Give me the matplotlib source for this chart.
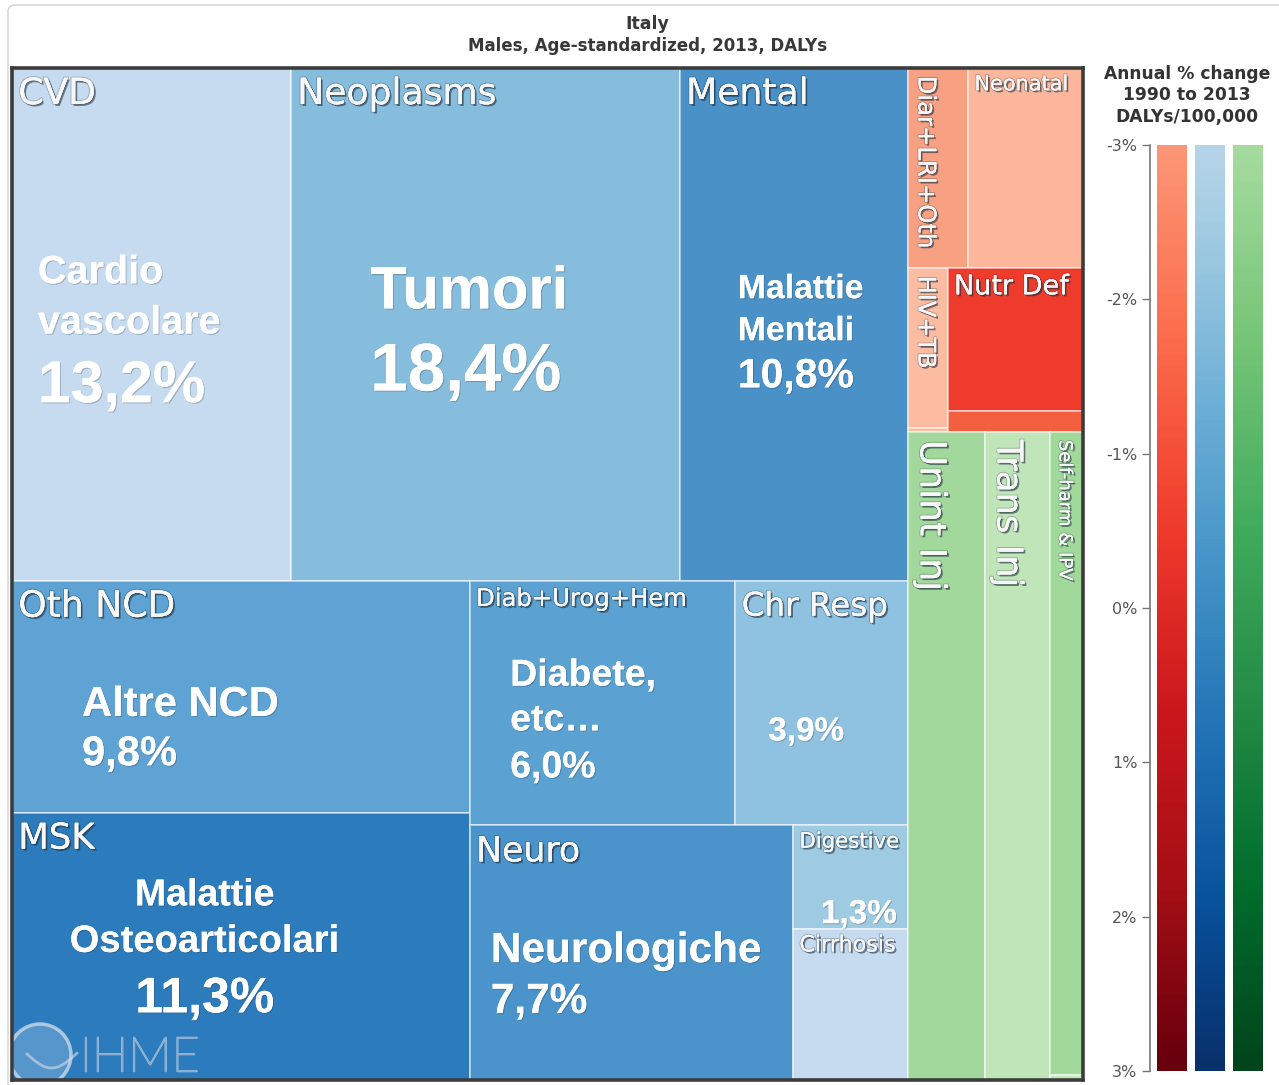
import matplotlib
matplotlib.use("Agg")
import matplotlib.pyplot as plt
import numpy as np
from matplotlib.patches import Rectangle, Ellipse, FancyBboxPatch
from matplotlib import patheffects as pe
from matplotlib.colors import LinearSegmentedColormap

# ---------------- data ----------------
causes = ["CVD", "Neoplasms", "Mental", "Oth NCD", "MSK", "Diab+Urog+Hem",
          "Chr Resp", "Neuro", "Digestive", "Cirrhosis", "Diar+LRI+Oth",
          "Neonatal", "HIV+TB", "NTD & Malaria", "Nutr Def", "Oth Comm",
          "Unint Inj", "Trans Inj", "Self-harm & IPV", "Forces of nature"]
daly_share = [13.2, 18.4, 10.8, 9.8, 11.3, 6.0,
              3.9, 7.6, 1.1, 1.6, 1.11,
              2.12, 0.585, 0.015, 1.78, 0.27,
              4.6, 3.89, 1.955, 0.015]
cause_colors = ["#c6dbef", "#86bcdc", "#4a91c8", "#5ea3d3", "#2c7cbd", "#5ba1d1",
                "#8fc2e0", "#4b94cb", "#9ecae2", "#c6dbf0", "#f7a082",
                "#fcb69b", "#fcbca2", "#fcbca2", "#ef3b2c", "#f4603f",
                "#a2d89b", "#c0e5b9", "#a1d99b", "#c7e9c0"]

# hierarchical slicing structure of the treemap
layout_tree = ("cols", [
    ("rows", [
        ("cols", ["CVD", "Neoplasms", "Mental"]),
        ("cols", [
            ("rows", ["Oth NCD", "MSK"]),
            ("rows", [
                ("cols", ["Diab+Urog+Hem", "Chr Resp"]),
                ("cols", ["Neuro", ("rows", ["Digestive", "Cirrhosis"])]),
            ]),
        ]),
    ]),
    ("rows", [
        ("rows", [
            ("cols", ["Diar+LRI+Oth", "Neonatal"]),
            ("cols", [("rows", ["HIV+TB", "NTD & Malaria"]),
                      ("rows", ["Nutr Def", "Oth Comm"])]),
        ]),
        ("cols", ["Unint Inj", "Trans Inj",
                  ("rows", ["Self-harm & IPV", "Forces of nature"])]),
    ]),
])

# cause labels shown in the corner of the cells
shown_labels = ["CVD", "Neoplasms", "Mental", "Oth NCD", "MSK", "Diab+Urog+Hem",
                "Chr Resp", "Neuro", "Digestive", "Cirrhosis", "Diar+LRI+Oth",
                "Neonatal", "HIV+TB", "Nutr Def", "Unint Inj", "Trans Inj",
                "Self-harm & IPV"]

# Italian annotation lines (cause, text)
annot_cause = ["CVD", "CVD", "CVD", "Neoplasms", "Neoplasms",
               "Mental", "Mental", "Mental", "Oth NCD", "Oth NCD",
               "Diab+Urog+Hem", "Diab+Urog+Hem", "Diab+Urog+Hem", "Chr Resp",
               "MSK", "MSK", "MSK", "Neuro", "Neuro", "Digestive"]
annot_text = ["Cardio", "vascolare", "13,2%", "Tumori", "18,4%",
              "Malattie", "Mentali", "10,8%", "Altre NCD", "9,8%",
              "Diabete,", "etc…", "6,0%", "3,9%",
              "Malattie", "Osteoarticolari", "11,3%", "Neurologiche", "7,7%", "1,3%"]

cbar_ticks = [-3, -2, -1, 0, 1, 2, 3]
cbar_ticklabels = ["-3%", "-2%", "-1%", "0%", "1%", "2%", "3%"]

# ---------------- styles ----------------
label_style = {  # fontsize, rotation
    "CVD": (26, 0), "Neoplasms": (26, 0), "Mental": (26, 0), "Oth NCD": (26, 0),
    "MSK": (25.5, 0), "Diab+Urog+Hem": (17.5, 0), "Chr Resp": (23.5, 0),
    "Neuro": (25, 0), "Digestive": (15.3, 0), "Cirrhosis": (16, 0),
    "Diar+LRI+Oth": (17.5, 270), "Neonatal": (15, 0), "HIV+TB": (17.3, 270),
    "Nutr Def": (19.5, 0), "Unint Inj": (26, 270), "Trans Inj": (25.5, 270),
    "Self-harm & IPV": (13, 270),
}
# (fontsize, fx, fy-baseline, ha) relative to the cell
annot_style = [(28.5, 0.093, 0.42, "left"), (28.5, 0.093, 0.518, "left"), (42.5, 0.093, 0.652, "left"),
               (43, 0.204, 0.469, "left"), (48.5, 0.204, 0.629, "left"),
               (24.3, 0.254, 0.449, "left"), (24.3, 0.254, 0.531, "left"), (29.5, 0.254, 0.623, "left"),
               (30, 0.153, 0.583, "left"), (30, 0.153, 0.796, "left"),
               (27, 0.152, 0.429, "left"), (27, 0.152, 0.612, "left"), (27, 0.152, 0.804, "left"),
               (24, 0.19, 0.653, "left"),
               (27, 0.421, 0.347, "center"), (27.5, 0.421, 0.521, "center"), (36, 0.421, 0.747, "center"),
               (30.5, 0.065, 0.537, "left"), (30.5, 0.065, 0.737, "left"),
               (24, 0.905, 0.942, "right")]

W, H = 1279, 1085
fig = plt.figure(figsize=(W / 100, H / 100), dpi=100)
fig.patch.set_facecolor("white")

# card border
fig.add_artist(FancyBboxPatch((8 / W, -0.02), 1.2, 1.0 - 5 / H + 0.02,
                              boxstyle="round,pad=0,rounding_size=0.006",
                              transform=fig.transFigure, facecolor="none",
                              edgecolor="#d9d9d9", linewidth=1.2))

# title
fig.text(0.506, 1 - 24 / H, "Italy", ha="center", va="center",
         fontsize=12.5, fontweight="bold", color="#383838", family="DejaVu Sans")
fig.text(0.506, 1 - 46 / H, "Males, Age-standardized, 2013, DALYs", ha="center",
         va="center", fontsize=12, fontweight="bold", color="#383838", family="DejaVu Sans")

# treemap axes
ax = fig.add_axes([12 / W, 1 - 1080 / H, 1071 / W, 1012 / H])
ax.set_xlim(0, 1)
ax.set_ylim(1, 0)
ax.set_xticks([])
ax.set_yticks([])
for s in ax.spines.values():
    s.set_color("#3c3c3c")
    s.set_linewidth(2.6)

value_of = dict(zip(causes, daly_share))
color_of = dict(zip(causes, cause_colors))


def total(node):
    if isinstance(node, str):
        return value_of[node]
    return sum(total(k) for k in node[1])


def slice_layout(node, x, y, w, h, out):
    if isinstance(node, str):
        out[node] = (x, y, w, h)
        return
    orient, kids = node
    tots = [total(k) for k in kids]
    s = sum(tots)
    pos = 0.0
    for k, t in zip(kids, tots):
        f = t / s
        if orient == "cols":
            slice_layout(k, x + pos * w, y, f * w, h, out)
        else:
            slice_layout(k, x, y + pos * h, w, f * h, out)
        pos += f


rects = {}
slice_layout(layout_tree, 0.0, 0.0, 1.0, 1.0, rects)

for c in causes:
    x, y, w, h = rects[c]
    ax.add_patch(Rectangle((x, y), w, h, facecolor=color_of[c],
                           edgecolor=(1, 1, 1, 0.55), linewidth=1.3))

shadow = [pe.withSimplePatchShadow(offset=(1.4, -1.4), shadow_rgbFace="#1a2a3a", alpha=0.55),
          pe.withStroke(linewidth=1.6, foreground=(0.1, 0.15, 0.2, 0.25)),
          pe.Normal()]

for c in shown_labels:
    x, y, w, h = rects[c]
    fs, rot = label_style[c]
    if rot == 0:
        off = (4.5, -6.5 if fs > 20 else -4.5)
    else:
        off = (4.0, -5.5)
    ax.annotate(c, xy=(x, y), xytext=off, textcoords="offset points",
                ha="left", va="top", rotation=rot, fontsize=fs,
                color="#f7f7f7", family="DejaVu Sans", path_effects=shadow,
                annotation_clip=False)

soft = [pe.withSimplePatchShadow(offset=(0.8, -0.8), shadow_rgbFace="#203040", alpha=0.25),
        pe.Normal()]
for c, t, (fs, fx, fy, ha) in zip(annot_cause, annot_text, annot_style):
    x, y, w, h = rects[c]
    ax.text(x + fx * w, y + fy * h, t, ha=ha, va="baseline", fontsize=fs,
            fontweight="bold", color="white", family="Liberation Sans",
            path_effects=soft)

# IHME watermark
logo = Ellipse((40 / W, 1 - 1055 / H), 62 / W, 62 / H, transform=fig.transFigure,
               facecolor=(1, 1, 1, 0.2), edgecolor=(0.82, 0.87, 0.92, 0.75), linewidth=2.5)
ax.add_patch(logo)
tt = np.linspace(0, 1, 50)
ax.plot((15 + 50 * tt) / 1071,
        (1055 - 1 + 14 * np.sin(tt * 3.2)) / 1012 - 68 / 1012,
        color=(0.82, 0.87, 0.92, 0.6), linewidth=2)
ihme = fig.text(80 / W, 1 - 1058 / H, "IHME", ha="left", va="center", fontsize=35,
                family="Lato", fontweight="light", color=(0.55, 0.66, 0.78, 0.75))
ihme.set_path_effects([pe.withStroke(linewidth=1.2, foreground=(0.8, 0.86, 0.92, 0.6)),
                       pe.Normal()])

# colorbar
cax = fig.add_axes([1150 / W, 1 - 1071 / H, 115 / W, (1071 - 145) / H])
half = 15 / 38
cmaps = [LinearSegmentedColormap.from_list("r", plt.get_cmap("Reds")(np.linspace(0.36, 1.0, 256))),
         LinearSegmentedColormap.from_list("b", plt.get_cmap("Blues")(np.linspace(0.30, 1.0, 256))),
         LinearSegmentedColormap.from_list("g", plt.get_cmap("Greens")(np.linspace(0.36, 1.0, 256)))]
grad = np.linspace(-3, 3, 256).reshape(-1, 1)
for i, cm in enumerate(cmaps):
    cax.imshow(grad, cmap=cm, aspect="auto", origin="upper",
               extent=[i - half, i + half, 3, -3], vmin=-3, vmax=3)
cax.set_xlim((1150 - 1172) / 38, (1265 - 1172) / 38)
cax.set_ylim(3, -3)
cax.set_xticks([])
cax.set_yticks(cbar_ticks)
cax.set_yticklabels(cbar_ticklabels)
cax.tick_params(axis="y", length=6, width=1, color="#777777", labelsize=11.5,
                labelcolor="#555555", pad=3)
for k in ["top", "right", "bottom"]:
    cax.spines[k].set_visible(False)
cax.spines["left"].set_color("#777777")
cax.spines["left"].set_linewidth(1.2)

for i, line in enumerate(["Annual % change", "1990 to 2013", "DALYs/100,000"]):
    fig.text(1187 / W, 1 - (74 + 21.5 * i) / H, line, ha="center", va="center",
             fontsize=12.3, fontweight="bold", color="#333333", family="DejaVu Sans")

fig.savefig("out.png", dpi=100)
